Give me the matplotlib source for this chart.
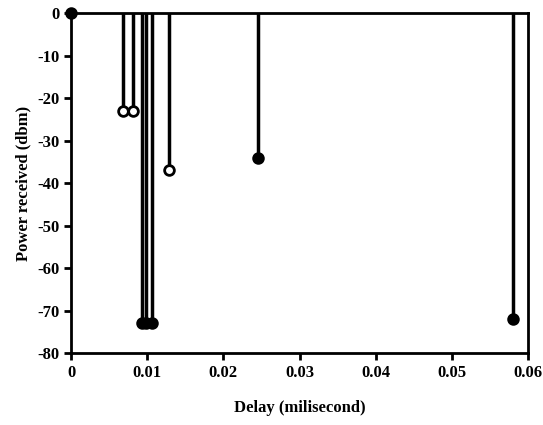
import matplotlib.pyplot as plt

delay = [0.0, 0.0068, 0.0082, 0.0093, 0.0099, 0.0106, 0.0129, 0.0246, 0.0580]
power = [0, -23, -23, -73, -73, -73, -37, -34, -72]
filled = [True, False, False, True, True, True, False, True, True]

plt.rcParams['font.family'] = ['Liberation Serif', 'DejaVu Serif']
plt.rcParams['font.weight'] = 'bold'
plt.rcParams['axes.unicode_minus'] = False

fig = plt.figure(figsize=(5.43, 4.25), dpi=100)
ax = fig.add_axes([0.1308, 0.1694, 0.8416, 0.8])

for x, y, f in zip(delay, power, filled):
  ax.plot([x, x], [0, y], color='black', lw=2.5, solid_capstyle='butt', clip_on=False)
  ax.plot(x, y, 'o', ms=7, mew=2, mec='black', mfc='black' if f else 'white', clip_on=False, zorder=5)

ax.set_xlim(0, 0.06)
ax.set_ylim(-80, 0)
ax.set_xticks([0, 0.01, 0.02, 0.03, 0.04, 0.05, 0.06])
ax.set_xticklabels(['0', '0.01', '0.02', '0.03', '0.04', '0.05', '0.06'])
ax.set_yticks(range(-80, 1, 10))
for s in ax.spines.values():
  s.set_linewidth(2)
ax.tick_params(direction='out', length=5, width=2, labelsize=12)
ax.set_xlabel('Delay (milisecond)', fontsize=12, fontweight='bold', labelpad=14)
ax.set_ylabel('Power received (dbm)', fontsize=12, fontweight='bold', labelpad=4)

fig.savefig('out.png', dpi=100)
